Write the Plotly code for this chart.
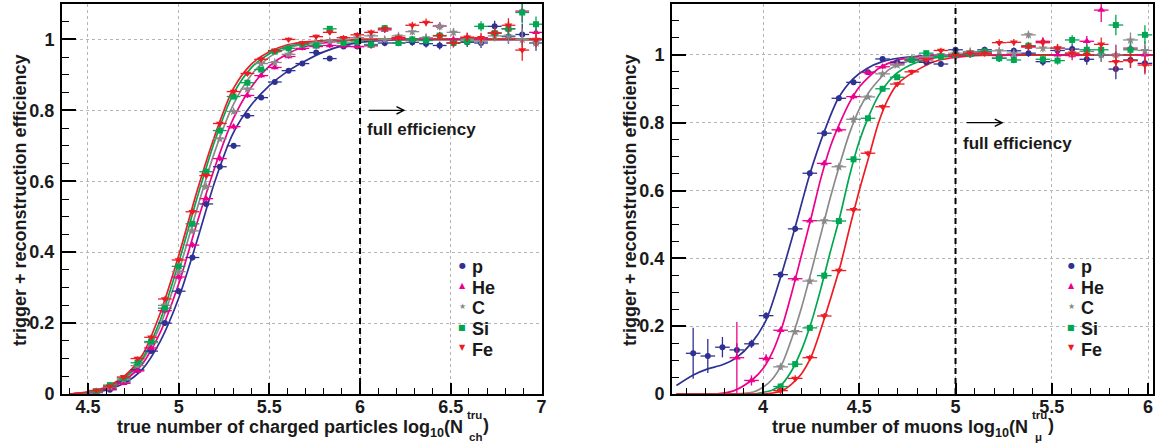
import plotly.graph_objects as go

W, H = 1157, 445

# ---------------- left panel: charged particles ----------------
x_ch = [4.545, 4.621, 4.697, 4.773, 4.848, 4.924, 5.000, 5.076, 5.152, 5.227, 5.303,
        5.379, 5.455, 5.530, 5.606, 5.682, 5.758, 5.833, 5.909, 5.985, 6.061, 6.136,
        6.212, 6.288, 6.364, 6.439, 6.515, 6.591, 6.667, 6.742, 6.818, 6.894, 6.970]
p_ch = [0.004, 0.012, 0.034, 0.068, 0.121, 0.200, 0.290, 0.385, 0.536, 0.641, 0.700,
        0.785, 0.836, 0.880, 0.912, 0.932, 0.963, 0.946, 0.980, 0.980, 0.985, 0.990,
        0.990, 0.992, 0.988, 0.983, 0.990, 0.992, 0.990, 1.037, 1.008, 1.014, 0.990]
he_ch = [0.005, 0.015, 0.030, 0.065, 0.130, 0.235, 0.330, 0.420, 0.551, 0.664, 0.754,
         0.842, 0.898, 0.921, 0.952, 0.975, 0.980, 0.983, 0.982, 0.980, 0.982, 1.027,
         1.005, 1.000, 1.000, 1.038, 1.000, 1.006, 1.000, 1.018, 1.030, 1.080, 1.020]
c_ch = [0.006, 0.020, 0.040, 0.080, 0.145, 0.250, 0.345, 0.460, 0.585, 0.720, 0.797,
        0.860, 0.932, 0.935, 0.958, 0.985, 0.990, 0.995, 1.000, 1.005, 1.010, 1.000,
        1.010, 1.022, 1.005, 1.037, 1.020, 1.000, 0.995, 1.010, 1.010, 1.000, 0.990]
si_ch = [0.008, 0.025, 0.045, 0.088, 0.148, 0.242, 0.360, 0.480, 0.627, 0.743, 0.839,
         0.878, 0.915, 0.966, 0.975, 0.986, 0.983, 1.030, 0.990, 0.993, 0.986, 1.032,
         0.990, 1.000, 0.997, 1.011, 0.990, 0.994, 1.037, 1.018, 1.030, 1.076, 1.043]
fe_ch = [0.010, 0.022, 0.048, 0.100, 0.160, 0.268, 0.378, 0.514, 0.616, 0.763, 0.853,
         0.904, 0.944, 0.969, 1.000, 0.990, 1.008, 1.020, 1.005, 1.013, 1.020, 1.030,
         1.005, 1.040, 1.048, 1.010, 0.990, 1.006, 1.005, 1.018, 1.040, 0.970, 1.000]
err_ch = [0.004, 0.004, 0.005, 0.006, 0.007, 0.008, 0.008, 0.008, 0.008, 0.008, 0.008,
          0.007, 0.007, 0.006, 0.006, 0.006, 0.006, 0.007, 0.007, 0.007, 0.008, 0.009,
          0.009, 0.010, 0.011, 0.011, 0.012, 0.013, 0.014, 0.016, 0.020, 0.030, 0.022]

# fitted curves
fx_ch = [4.40, 4.50, 4.60, 4.70, 4.80, 4.90, 5.00, 5.10, 5.20, 5.30, 5.40, 5.50,
         5.60, 5.70, 5.80, 5.90, 6.00, 6.20, 7.00]
fp_ch = [0, 0.003, 0.011, 0.030, 0.070, 0.150, 0.270, 0.430, 0.600, 0.735, 0.815, 0.870,
         0.910, 0.940, 0.965, 0.982, 0.992, 0.999, 1.0]
fhe_ch = [0, 0.004, 0.014, 0.038, 0.085, 0.175, 0.310, 0.480, 0.640, 0.775, 0.865, 0.925,
          0.960, 0.980, 0.990, 0.996, 0.999, 1.0, 1.0]
fc_ch = [0, 0.004, 0.016, 0.042, 0.095, 0.195, 0.345, 0.520, 0.685, 0.815, 0.900, 0.950,
         0.975, 0.988, 0.995, 0.998, 0.999, 1.0, 1.0]
fsi_ch = [0, 0.005, 0.018, 0.046, 0.100, 0.210, 0.370, 0.550, 0.715, 0.845, 0.920, 0.960,
          0.980, 0.990, 0.996, 0.998, 1.0, 1.0, 1.0]
ffe_ch = [0, 0.006, 0.020, 0.050, 0.110, 0.230, 0.390, 0.570, 0.730, 0.860, 0.930, 0.965,
          0.985, 0.993, 0.997, 0.999, 1.0, 1.0, 1.0]

# ---------------- right panel: muons ----------------
x_mu = [3.637, 3.713, 3.789, 3.864, 3.940, 4.016, 4.091, 4.167, 4.243, 4.318, 4.394,
        4.470, 4.545, 4.621, 4.697, 4.773, 4.848, 4.924, 5.000, 5.076, 5.151, 5.227,
        5.303, 5.379, 5.454, 5.530, 5.606, 5.682, 5.757, 5.833, 5.909, 5.984]
p_mu = [0.120, 0.112, 0.138, 0.130, 0.148, 0.231, 0.352, 0.487, 0.651, 0.769, 0.872,
        0.919, 0.949, 0.988, 0.978, 0.985, 0.978, 0.973, 1.015, 1.005, 1.015, 0.990,
        1.012, 1.005, 0.980, 1.013, 1.017, 0.987, 1.000, 0.958, 0.985, 0.975]
he_mu = [None, None, None, 0.107, 0.040, 0.105, 0.188, 0.340, 0.511, 0.680, 0.779,
         0.877, 0.948, 0.965, 0.973, 0.985, 0.990, 1.000, 0.995, 1.000, 1.005, 0.998,
         1.000, 1.023, 1.040, 1.000, 0.998, 1.040, 1.132, 1.000, 1.020, 1.000]
c_mu = [None, None, None, None, None, None, 0.080, 0.184, 0.333, 0.511, 0.670,
        0.810, 0.876, 0.944, 0.970, 0.990, 0.995, 1.000, 1.005, 1.010, 1.008, 1.012,
        1.005, 1.059, 1.020, 1.020, 1.005, 1.010, 1.000, 1.000, 1.044, 1.013]
si_mu = [None, None, None, None, None, None, 0.022, 0.088, 0.195, 0.349, 0.510,
         0.692, 0.813, 0.900, 0.934, 0.985, 1.005, 0.995, 1.000, 1.002, 1.010, 0.990,
         0.985, 1.027, 0.987, 0.983, 1.044, 1.015, 1.015, 1.088, 1.015, 1.059]
fe_mu = [None, None, None, None, None, None, 0.010, 0.046, 0.107, 0.230, 0.364,
         0.543, 0.710, 0.847, 0.914, 0.950, 0.985, 1.013, 1.000, 1.005, 1.005, 1.036,
         1.037, 1.025, 1.036, 1.020, 1.005, 1.000, 1.031, 0.980, 0.983, 0.970]
err_mu = [0.075, 0.050, 0.030, 0.020, 0.012, 0.010, 0.009, 0.009, 0.009, 0.009, 0.008,
          0.008, 0.007, 0.007, 0.007, 0.007, 0.007, 0.008, 0.008, 0.009, 0.009, 0.010,
          0.010, 0.011, 0.012, 0.012, 0.014, 0.016, 0.020, 0.030, 0.022, 0.028]
err_he_mu = [None, None, None, 0.105, 0.015, 0.012, 0.010, 0.009, 0.009, 0.009, 0.008,
             0.008, 0.007, 0.007, 0.007, 0.007, 0.007, 0.008, 0.008, 0.009, 0.009, 0.010,
             0.010, 0.011, 0.012, 0.012, 0.014, 0.016, 0.035, 0.030, 0.022, 0.028]

fx_mu_p = [3.55, 3.638, 3.713, 3.789, 3.864, 3.94, 4.016, 4.092, 4.166, 4.244, 4.319,
           4.391, 4.469, 4.54, 4.62, 4.70, 4.80, 4.90, 5.0, 6.03]
fp_mu = [0.025, 0.056, 0.074, 0.086, 0.108, 0.150, 0.218, 0.346, 0.490, 0.650, 0.775,
         0.872, 0.930, 0.960, 0.980, 0.990, 0.996, 0.999, 1.0, 1.0]
fx_mu = [3.55, 3.75, 3.85, 3.95, 4.00, 4.05, 4.10, 4.15, 4.20, 4.25, 4.30, 4.35, 4.40,
         4.45, 4.50, 4.55, 4.60, 4.65, 4.70, 4.80, 4.90, 5.00, 5.10, 6.03]
fhe_mu = [0, 0, 0.010, 0.045, 0.075, 0.125, 0.200, 0.300, 0.410, 0.520, 0.635, 0.730,
          0.800, 0.860, 0.905, 0.935, 0.960, 0.975, 0.985, 0.994, 0.998, 1.0, 1.0, 1.0]
fc_mu = [0, 0, 0, 0.006, 0.020, 0.045, 0.090, 0.165, 0.255, 0.360, 0.470, 0.580, 0.680,
         0.770, 0.840, 0.890, 0.925, 0.955, 0.970, 0.988, 0.996, 0.999, 1.0, 1.0]
fsi_mu = [0, 0, 0, 0, 0.005, 0.012, 0.030, 0.070, 0.130, 0.210, 0.310, 0.420, 0.525,
          0.645, 0.745, 0.820, 0.880, 0.920, 0.948, 0.978, 0.992, 0.997, 0.999, 1.0]
ffe_mu = [0, 0, 0, 0, 0, 0.003, 0.010, 0.030, 0.060, 0.110, 0.190, 0.280, 0.375,
          0.490, 0.600, 0.700, 0.800, 0.870, 0.915, 0.955, 0.982, 0.993, 0.998, 1.0]

species = ["p", "He", "C", "Si", "Fe"]
colors = ["#2e3192", "#ec008c", "#8a8a8a", "#00a651", "#ed1c24"]
symbols = ["circle", "triangle-up", "star", "square", "triangle-down"]
glyphs = ["\u25cf", "\u25b2", "\u2605", "\u25a0", "\u25bc"]
msizes = [6, 7, 7, 6, 7]

FONT = "Liberation Sans, Arial, Helvetica, sans-serif"
TXT = "#1a1a1a"

fig = go.Figure()

fits_ch = [fp_ch, fhe_ch, fc_ch, fsi_ch, ffe_ch]
pts_ch = [p_ch, he_ch, c_ch, si_ch, fe_ch]
fits_mu = [fp_mu, fhe_mu, fc_mu, fsi_mu, ffe_mu]
fitx_mu = [fx_mu_p, fx_mu, fx_mu, fx_mu, fx_mu]
pts_mu = [p_mu, he_mu, c_mu, si_mu, fe_mu]
errs_mu = [err_mu, err_he_mu, err_mu, err_mu, err_mu]

for i, name in enumerate(species):
    fig.add_trace(go.Scatter(x=fx_ch, y=fits_ch[i], mode="lines", xaxis="x", yaxis="y",
                             line=dict(color=colors[i], width=1.7, shape="spline", smoothing=0.8),
                             showlegend=False, hoverinfo="skip"))
    fig.add_trace(go.Scatter(x=fitx_mu[i], y=fits_mu[i], mode="lines", xaxis="x2", yaxis="y2",
                             line=dict(color=colors[i], width=1.7, shape="spline", smoothing=0.8),
                             showlegend=False, hoverinfo="skip"))

for i, name in enumerate(species):
    fig.add_trace(go.Scatter(
        x=x_ch, y=pts_ch[i], mode="markers", name=name, xaxis="x", yaxis="y",
        showlegend=False,
        marker=dict(color=colors[i], symbol=symbols[i], size=msizes[i], line=dict(width=0)),
        error_x=dict(type="constant", value=0.038, color=colors[i], thickness=1.3, width=0),
        error_y=dict(type="data", array=err_ch, color=colors[i], thickness=1.3, width=0)))
    fig.add_trace(go.Scatter(
        x=x_mu, y=pts_mu[i], mode="markers", name=name, xaxis="x2", yaxis="y2",
        showlegend=False,
        marker=dict(color=colors[i], symbol=symbols[i], size=msizes[i], line=dict(width=0)),
        error_x=dict(type="constant", value=0.038, color=colors[i], thickness=1.3, width=0),
        error_y=dict(type="data", array=errs_mu[i], color=colors[i], thickness=1.3, width=0)))


def px(v):
    return v / W


def py(v):
    return 1 - v / H


tickfont = dict(family=FONT, size=18, color=TXT, weight="bold")


def xax(domain, rng, anchor):
    return dict(domain=domain, range=rng, anchor=anchor, dtick=0.5, tick0=0,
                automargin=False,
                ticks="inside", ticklen=11, tickwidth=1.5, tickcolor="black",
                showline=True, linewidth=2, linecolor="black", mirror=True,
                showgrid=True, gridcolor="#b5b5b5", griddash="dot", gridwidth=1,
                zeroline=False, tickfont=tickfont, ticklabelstandoff=-5,
                minor=dict(dtick=0.1, tick0=0, ticks="inside", ticklen=6, tickwidth=1,
                           tickcolor="black", showgrid=False))


def yax(domain, rng, anchor):
    return dict(domain=domain, range=rng, anchor=anchor, dtick=0.2, tick0=0,
                automargin=False,
                ticks="inside", ticklen=14, tickwidth=1.5, tickcolor="black",
                showline=True, linewidth=2, linecolor="black", mirror=True,
                showgrid=True, gridcolor="#b5b5b5", griddash="dot", gridwidth=1,
                zeroline=False, tickfont=tickfont, ticklabelstandoff=2,
                minor=dict(dtick=0.05, tick0=0, ticks="inside", ticklen=7, tickwidth=1,
                           tickcolor="black", showgrid=False))


ydom = [py(394), py(4)]
fig.update_layout(
    width=W, height=H, margin=dict(l=0, r=0, t=0, b=0, autoexpand=False),
    paper_bgcolor="white", plot_bgcolor="white",
    font=dict(family=FONT, color=TXT),
    xaxis=xax([px(62), px(542)], [4.357, 7.003], "y"),
    yaxis=yax(ydom, [0, 1.10], "x"),
    xaxis2=xax([px(672), px(1153)], [3.527, 6.026], "y2"),
    yaxis2=yax(ydom, [0, 1.15], "x2"),
    showlegend=False,
)

# dashed "full efficiency" thresholds
fig.add_shape(type="line", xref="x", yref="y", x0=6.0, x1=6.0, y0=0, y1=1.10,
              line=dict(color="black", width=2, dash="6px,4px"))
fig.add_shape(type="line", xref="x2", yref="y2", x0=5.0, x1=5.0, y0=0, y1=1.15,
              line=dict(color="black", width=2, dash="6px,4px"))

ann_font = dict(family=FONT, size=17, color=TXT, weight="bold")
for xr, yr, x0, x1 in [("x", "y", 6.04, 6.25), ("x2", "y2", 5.05, 5.25)]:
    fig.add_annotation(x=x1, y=0.80, ax=x0, ay=0.80, xref=xr, yref=yr, axref=xr, ayref=yr,
                       text="", showarrow=True, arrowhead=5, arrowsize=1.1, arrowwidth=1.3,
                       arrowcolor="black")
fig.add_annotation(x=6.03, y=0.745, xref="x", yref="y", text="full efficiency",
                   showarrow=False, xanchor="left", yanchor="middle", font=ann_font)
fig.add_annotation(x=5.03, y=0.74, xref="x2", yref="y2", text="full efficiency",
                   showarrow=False, xanchor="left", yanchor="middle", font=ann_font)

# legends (symbol + label), one per panel
leg_font = dict(family=FONT, size=18, color=TXT, weight="bold")
for mx in [462, 1071]:
    for i, name in enumerate(species):
        yc = 266 + 20.7 * i
        fig.add_annotation(x=px(mx), y=py(yc - 1), xref="paper", yref="paper", text=glyphs[i],
                           showarrow=False, xanchor="center", yanchor="middle",
                           font=dict(family="DejaVu Sans", size=8, color=colors[i]))
        fig.add_annotation(x=px(mx + 8), y=py(yc + 1), xref="paper", yref="paper", text=name,
                           showarrow=False, xanchor="left", yanchor="middle", font=leg_font)

# axis titles
tfont = dict(family=FONT, size=18, color=TXT, weight="bold")
sfont = dict(family=FONT, size=11.5, color=TXT, weight="bold")
for xc in [20, 630]:
    fig.add_annotation(x=px(xc), y=py(200), xref="paper", yref="paper",
                       text="trigger + reconstruction efficiency", textangle=-90,
                       showarrow=False, xanchor="center", yanchor="middle", font=tfont)

for main, nend, sub in [
        ("true number of charged particles log<sub>10</sub>(N", 465, "ch"),
        ("true number of muons log<sub>10</sub>(N", 1030, "\u03bc")]:
    fig.add_annotation(x=px(nend), y=py(428), xref="paper", yref="paper", text=main,
                       showarrow=False, xanchor="right", yanchor="middle", font=tfont)
    fig.add_annotation(x=px(nend), y=py(415), xref="paper", yref="paper", text="tru",
                       showarrow=False, xanchor="left", yanchor="middle", font=sfont)
    fig.add_annotation(x=px(nend + (2 if sub == "ch" else 3)), y=0, xref="paper",
                       yref="paper", text=sub, showarrow=False, xanchor="left",
                       yanchor="bottom", font=sfont)
    fig.add_annotation(x=px(nend + 16), y=py(425), xref="paper", yref="paper", text=")",
                       showarrow=False, xanchor="left", yanchor="middle", font=tfont)

fig.write_html("out.html", post_script="document.body.style.margin='0px';",
               config={"displayModeBar": False})
